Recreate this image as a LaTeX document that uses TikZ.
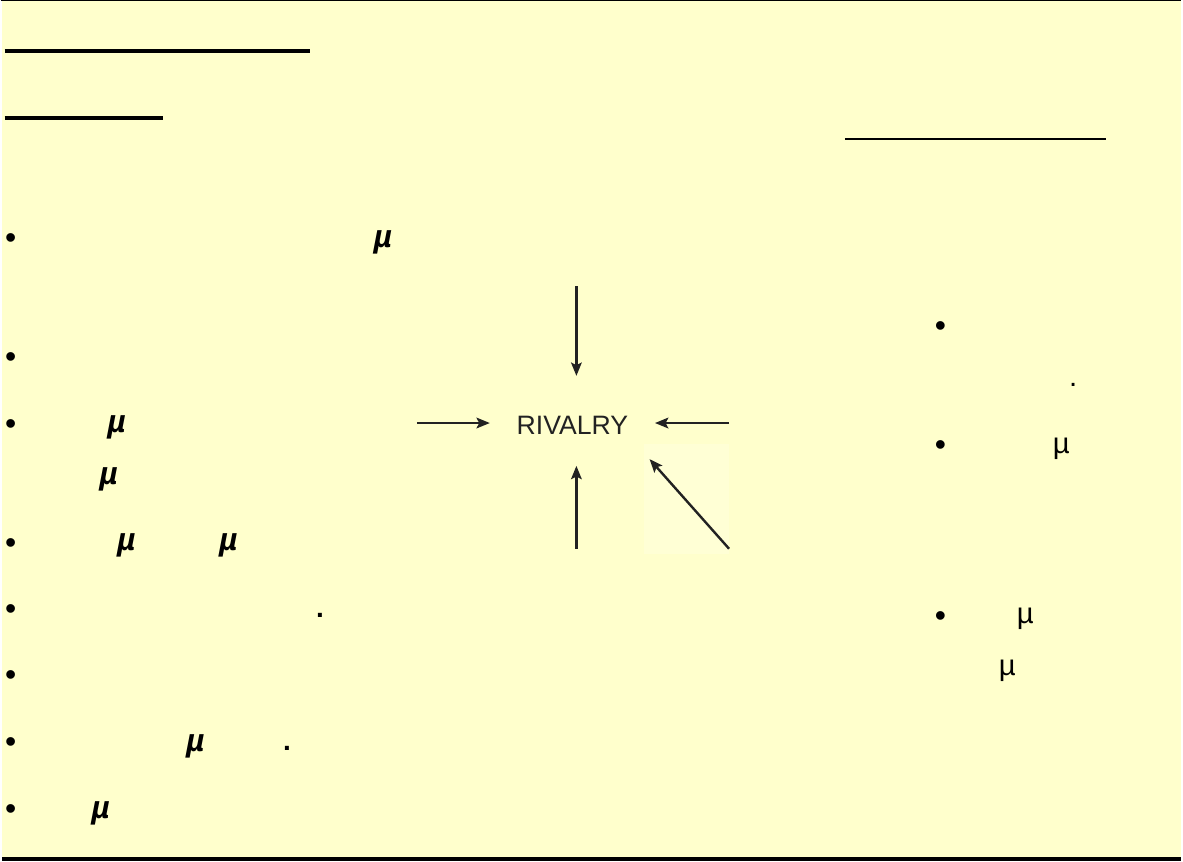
\documentclass[tikz,border=0pt]{standalone}
\usepackage{fontspec}
\setmainfont{Liberation Sans}
\usetikzlibrary{arrows.meta}
\definecolor{paper}{HTML}{FFFFCC}
\definecolor{patch}{HTML}{FFFFD5}
\definecolor{ink}{HTML}{222222}

\begin{document}
\begin{tikzpicture}[x=0.75pt,y=-0.75pt,
  >={Stealth[length=10pt,width=8pt,inset=2pt]},
  bul/.style={font=\fontsize{24}{28}\selectfont,inner sep=0,anchor=base},
  mub/.style={font=\fontsize{24}{28}\selectfont\bfseries\itshape,inner sep=0},
  mur/.style={font=\fontsize{22}{26}\selectfont,inner sep=0},
  stop/.style={font=\fontsize{21}{25}\selectfont\bfseries,inner sep=0},
  rival/.style={font=\fontsize{20}{24}\selectfont,text=ink,inner sep=0},
  force/.style={->,line width=1.8pt,draw=ink}]
  \fill[white] (0,0) rectangle (1183,863);
  \fill[paper] (1.5,0) rectangle (1183,863);
  \fill[patch] (645,445) rectangle (730,555);
  \draw[line width=1.1pt] (0,0.75) -- (1183,0.75);
  \draw[line width=3pt] (1.5,861) -- (1183,861);
  \draw[line width=2.7pt] (4,51) -- (310,51);
  \draw[line width=2.7pt] (4,118) -- (163,118);
  \draw[line width=1.6pt] (846,139) -- (1108,139);

  \node[bul] (b1) at (10,249.5) {•};
  \node[bul] (b2) at (10,368.5) {•};
  \node[bul] (b3) at (10,435.5) {•};
  \node[bul] (b4) at (10,554.5) {•};
  \node[bul] (b5) at (10,620.5) {•};
  \node[bul] (b6) at (10,687.5) {•};
  \node[bul] (b7) at (10,754.5) {•};
  \node[bul] (b8) at (10,821.5) {•};
  \node[mub] (m1) at (383,243) {µ};
  \node[mub] (m2) at (116,428) {µ};
  \node[mub] (m3) at (108,480) {µ};
  \node[mub] (m4) at (126,547) {µ};
  \node[mub] (m5) at (228,547) {µ};
  \node[mub] (m6) at (195,748) {µ};
  \node[mub] (m7) at (100,815) {µ};
  \node[stop] (p1) at (320,617) {.};
  \node[stop] (p2) at (287,750) {.};

  \node[bul] (r1) at (942,337.5) {•};
  \node[bul] (r2) at (942,456.5) {•};
  \node[bul] (r3) at (942,627.5) {•};
  \node[mur] (p3) at (1075,386) {.};
  \node[mur] (n1) at (1063,450) {µ};
  \node[mur] (n2) at (1027,620) {µ};
  \node[mur] (n3) at (1009,672) {µ};

  \node[rival,anchor=base] (rivalry) at (573,436) {RIVALRY};
  \coordinate (fromN) at (577,287);
  \coordinate (fromS) at (577,550);
  \coordinate (fromW) at (417,424);
  \coordinate (fromE) at (730,424);
  \coordinate (fromSE) at (730,550);
  \draw[force,shorten >=30.5pt] (fromN) -- (fromN |- rivalry.north);
  \draw[force,shorten >=23pt] (fromS) -- (fromS |- rivalry.south);
  \draw[force,shorten >=20pt] (fromW) -- (fromW -| rivalry.west);
  \draw[force,shorten >=20pt] (fromE) -- (fromE -| rivalry.east);
  \draw[force,shorten >=24pt] (fromSE) -- (rivalry.south east);
\end{tikzpicture}
\end{document}
